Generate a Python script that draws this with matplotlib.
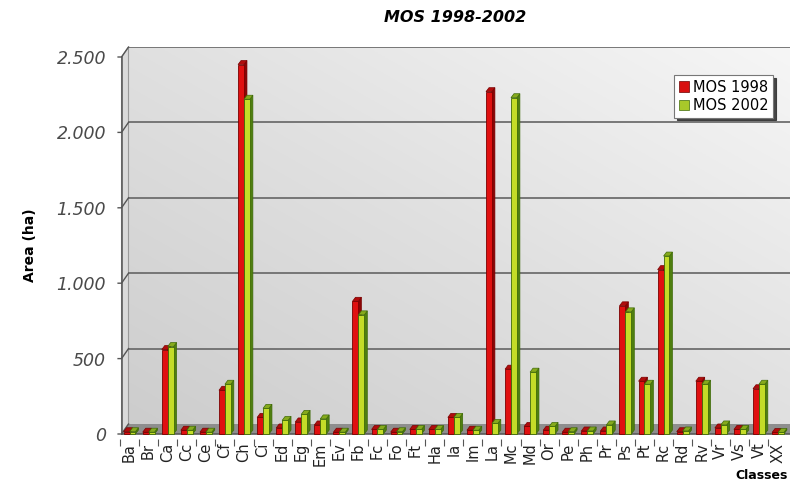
import matplotlib
matplotlib.use("Agg")
import matplotlib.pyplot as plt
import numpy as np
from matplotlib.patches import Polygon, Patch
from matplotlib.colors import LinearSegmentedColormap

classes = ["Ba", "Br", "Ca", "Cc", "Ce", "Cf", "Ch", "Ci", "Ed", "Eg", "Em", "Ev",
           "Fb", "Fc", "Fo", "Ft", "Ha", "Ia", "Im", "La", "Mc", "Md", "Or", "Pe",
           "Ph", "Pr", "Ps", "Pt", "Rc", "Rd", "Rv", "Vr", "Vs", "Vt", "XX"]
mos_1998 = [15, 12, 560, 25, 12, 290, 2450, 110, 40, 80, 60, 12,
            880, 30, 12, 30, 30, 110, 25, 2270, 430, 50, 25, 12,
            20, 20, 850, 350, 1090, 15, 350, 40, 30, 300, 10]
mos_2002 = [15, 12, 580, 25, 12, 330, 2220, 170, 90, 130, 100, 12,
            790, 30, 15, 30, 30, 110, 25, 70, 2230, 410, 50, 15,
            20, 60, 810, 330, 1180, 20, 330, 60, 30, 330, 10]
yticks = [0, 500, 1000, 1500, 2000, 2500]

W, H = 790, 483
fig = plt.figure(figsize=(W / 100, H / 100), dpi=100)
fig.patch.set_facecolor("white")

# axes box in pixels: front axis at x=120, value 0 at y=434, 2500 at y=57
py_per_unit = 377 / 2500
ymin, ymax = -30, 2566
bot_px = 434 + (-ymin) * py_per_unit
top_px = 434 - ymax * py_per_unit
ax = fig.add_axes([120 / W, 1 - bot_px / H, 670 / W, (bot_px - top_px) / H])
n = len(classes)
xl, xr = -0.42, 34.63
ax.set_xlim(xl, xr)
ax.set_ylim(ymin, ymax)
ax.set_facecolor("white")
for s in ax.spines.values():
    s.set_visible(False)

px_per_x = 670 / (xr - xl)
wdx, wdy = 7 / px_per_x, 10 / py_per_unit      # depth of the back wall
bdx, bdy = 3 / px_per_x, 4 / py_per_unit       # depth of each bar
wall_top = yticks[-1] + wdy

# back wall with a soft diagonal gradient
gx, gy = np.meshgrid(np.linspace(0, 1, 200), np.linspace(0, 1, 200))
grad = 0.5 * gx + 0.5 * gy
wall_cmap = LinearSegmentedColormap.from_list("wall", ["#cdcdcd", "#e0e0e0", "#f6f6f6"])
ax.imshow(grad, cmap=wall_cmap, origin="lower", aspect="auto",
          extent=(xl + wdx, xr, wdy, wall_top), zorder=0, interpolation="bilinear")

# left side wall
ax.add_patch(Polygon([(xl, 0), (xl + wdx, wdy), (xl + wdx, wall_top), (xl, yticks[-1])],
                     closed=True, facecolor="#dadada", edgecolor="#9a9a9a", lw=0.8, zorder=1))
# floor
ax.add_patch(Polygon([(xl, 0), (xr, 0), (xr, wdy), (xl + wdx, wdy)],
                     closed=True, facecolor="#8e8e8e", edgecolor="none", zorder=1))
ax.plot([xl, xr], [0, 0], color="#5a5a5a", lw=1.2, zorder=1.5)

# gridlines on the back wall and slanted ticks on the front axis
for v in yticks[1:]:
    ax.plot([xl + wdx, xr], [v + wdy, v + wdy], color="#6e6e6e", lw=1.3, zorder=1)
for v in yticks:
    ax.plot([xl - 0.18, xl, xl + wdx], [v, v, v + wdy], color="#555555", lw=1.0,
            zorder=2, clip_on=False)
ax.plot([xl, xl], [0, yticks[-1]], color="#555555", lw=1.1, zorder=2)


def draw_bar(x0, width, h, front, side, top, edge, z):
    x1 = x0 + width
    ax.add_patch(Polygon([(x1, 0), (x1 + bdx, bdy), (x1 + bdx, h + bdy), (x1, h)],
                         closed=True, facecolor=side, edgecolor=edge, lw=0.5, zorder=z))
    ax.add_patch(Polygon([(x0, h), (x0 + bdx, h + bdy), (x1 + bdx, h + bdy), (x1, h)],
                         closed=True, facecolor=top, edgecolor=edge, lw=0.5, zorder=z))
    ax.add_patch(Polygon([(x0, 0), (x1, 0), (x1, h), (x0, h)],
                         closed=True, facecolor=front, edgecolor=edge, lw=0.6, zorder=z))


bw = 0.31
for i in range(n):
    draw_bar(i - bw, bw, mos_1998[i], "#e01010", "#8a0505", "#b00c0c", "#7a0000", 3 + i * 0.01)
    draw_bar(i, bw, mos_2002[i], "#c4dc28", "#4f7f10", "#86aa1c", "#3e6a08", 3.005 + i * 0.01)

# axis ticks and labels
ax.set_yticks(yticks)
ax.set_yticklabels([f"{v:,}".replace(",", ".") for v in yticks], fontsize=12.5,
                   style="italic", color="#4a4a4a")
ax.tick_params(axis="y", length=0, pad=10)
ax.set_xticks(range(n))
ax.set_xticklabels(classes, rotation=90, fontsize=10.5, color="#222222")
ax.set_xticks(np.arange(n) - 0.5, minor=True)
ax.tick_params(axis="x", which="major", length=0, pad=3)
ax.tick_params(axis="x", which="minor", length=5, color="#555555", width=0.8)

# legend
handles = [Patch(facecolor="#d81010", edgecolor="#6a0000", lw=0.5, label="MOS 1998"),
           Patch(facecolor="#a8c82a", edgecolor="#3e6a08", lw=0.5, label="MOS 2002")]
leg = ax.legend(handles=handles, loc="upper right", bbox_to_anchor=(0.975, 0.928),
                borderaxespad=0, fontsize=10.5, handlelength=0.7, handleheight=0.7,
                handletextpad=0.3, borderpad=0.3, labelspacing=0.25,
                fancybox=False, shadow={"color": "#333333", "alpha": 0.9}, framealpha=1)
leg.get_frame().set_edgecolor("#777777")
leg.get_frame().set_linewidth(0.8)
leg.set_zorder(10)

fig.text(455 / W, 1 - 17 / H, "MOS 1998-2002", ha="center", va="center",
         fontsize=11.5, fontweight="bold", style="italic")
fig.text(30 / W, 1 - 245 / H, "Area (ha)", ha="center", va="center", rotation=90,
         fontsize=10, fontweight="bold")
fig.text(788 / W, 1 - 482 / H, "Classes", ha="right", va="bottom", fontsize=9,
         fontweight="bold")

fig.savefig("out.png", dpi=100)
